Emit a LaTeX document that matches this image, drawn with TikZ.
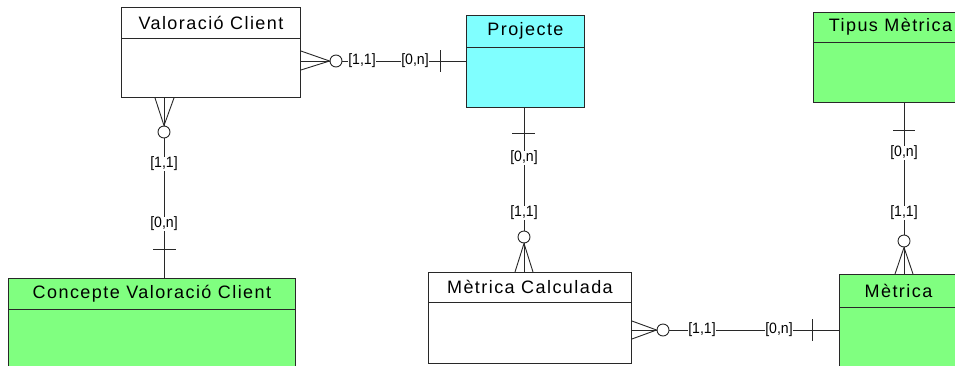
\documentclass[tikz,border=0pt]{standalone}
\usepackage{fontspec}
\setmainfont{Liberation Sans}
\newfontfamily\hdrfont[LetterSpace=8]{Liberation Sans}
\newfontfamily\lblfont[FakeStretch=0.94]{Liberation Sans}
\usetikzlibrary{calc}
\definecolor{cyanfill}{RGB}{128,255,255}
\definecolor{greenfill}{RGB}{128,255,128}
\definecolor{edge}{RGB}{40,40,40}
\tikzset{
  entity/.style={draw=edge, line width=0.9pt, anchor=north west, inner sep=0pt, rectangle},
  ttl/.style={font=\hdrfont\fontsize{18}{21}\selectfont, inner sep=0pt, text=black},
  lbl/.style={font=\lblfont\fontsize{15}{17}\selectfont, fill=white, inner sep=0.5pt, text=black},
  circ/.style={draw=edge, line width=0.9pt, circle, fill=white, minimum size=12pt, inner sep=0pt},
  conn/.style={draw=edge, line width=0.9pt},
}
\begin{document}
\begin{tikzpicture}[x=1pt,y=-1pt]
\clip (0,0) rectangle (955,365);
\fill[white] (0,0) rectangle (955,365);

% Entities
\node[entity, fill=white, minimum width=179pt, minimum height=90pt] (vc) at (121,7) {};
\draw[conn] ([yshift=-31pt]vc.north west) -- ([yshift=-31pt]vc.north east);
\node[ttl] (vct) at ([yshift=-15.5pt]vc.north) {Valoració Client};

\node[entity, fill=cyanfill, minimum width=118pt, minimum height=92pt] (pr) at (466,15) {};
\draw[conn] ([yshift=-32pt]pr.north west) -- ([yshift=-32pt]pr.north east);
\node[ttl] (prt) at ([yshift=-16pt]pr.north) {Projecte};

\node[entity, fill=greenfill, minimum width=154pt, minimum height=90pt] (tm) at (813,12) {};
\draw[conn] ([yshift=-30pt]tm.north west) -- ([yshift=-30pt]tm.north east);
\node[ttl] (tmt) at ([yshift=-15pt]tm.north) {Tipus Mètrica};

\node[entity, fill=greenfill, minimum width=287pt, minimum height=120pt] (cvc) at (8,278) {};
\draw[conn] ([yshift=-31pt]cvc.north west) -- ([yshift=-31pt]cvc.north east);
\node[ttl] (cvct) at ([yshift=-15.5pt]cvc.north) {Concepte Valoració Client};

\node[entity, fill=white, minimum width=203pt, minimum height=91pt] (mc) at (428,272) {};
\draw[conn] ([yshift=-30pt]mc.north west) -- ([yshift=-30pt]mc.north east);
\node[ttl] (mct) at ([yshift=-15pt]mc.north) {Mètrica Calculada};

\node[entity, fill=greenfill, minimum width=118pt, minimum height=120pt] (met) at (839,274) {};
\draw[conn] ([yshift=-33pt]met.north west) -- ([yshift=-33pt]met.north east);
\node[ttl] (mett) at ([yshift=-16.5pt]met.north) {Mètrica};

% Connector A: Valoració Client -- Projecte (y=61)
\coordinate (a1) at (vc.east |- 0,61);
\coordinate (a2) at (pr.west |- 0,61);
\draw[conn] (a1) -- (a2);
\node[circ] (ca) at (336,61) {};
\draw[conn] (vc.east |- 0,51) -- (ca.west) -- (vc.east |- 0,70);
\node[lbl] (la1) at (362,61) {[1,1]};
\node[lbl] (la2) at (415,61) {[0,n]};
\draw[conn] (440,50) -- (440,72);

% Connector B: Valoració Client -- Concepte Valoració Client (x=164)
\coordinate (b1) at (164,0 |- vc.south);
\coordinate (b2) at (164,0 |- cvc.north);
\draw[conn] (b1) -- (b2);
\node[circ] (cb) at (164,132) {};
\draw[conn] (155,0 |- vc.south) -- (cb.north) -- (174,0 |- vc.south);
\node[lbl] (lb1) at (164,164) {[1,1]};
\node[lbl] (lb2) at (164,224) {[0,n]};
\draw[conn] (153,249) -- (176,249);

% Connector C: Projecte -- Mètrica Calculada (x=524)
\coordinate (c1) at (524,0 |- pr.south);
\coordinate (c2) at (524,0 |- mc.north);
\draw[conn] (c1) -- (c2);
\node[lbl] (lc1) at (524,158) {[0,n]};
\node[lbl] (lc2) at (524,213) {[1,1]};
\node[circ] (cc) at (524,237) {};
\draw[conn] (515,0 |- mc.north) -- (cc.south) -- (533,0 |- mc.north);
\draw[conn] (512,133) -- (535,133);

% Connector D: Tipus Mètrica -- Mètrica (x=904)
\coordinate (d1) at (904,0 |- tm.south);
\coordinate (d2) at (904,0 |- met.north);
\draw[conn] (d1) -- (d2);
\node[lbl] (ld1) at (904,153) {[0,n]};
\node[lbl] (ld2) at (904,213) {[1,1]};
\node[circ] (cd) at (904,241) {};
\draw[conn] (895,0 |- met.north) -- (cd.south) -- (913,0 |- met.north);
\draw[conn] (893,130) -- (915,130);

% Connector E: Mètrica Calculada -- Mètrica (y=330)
\coordinate (e1) at (mc.east |- 0,330);
\coordinate (e2) at (met.west |- 0,330);
\draw[conn] (e1) -- (e2);
\node[circ] (ce) at (663,330) {};
\draw[conn] (mc.east |- 0,321) -- (ce.west) -- (mc.east |- 0,339);
\node[lbl] (le1) at (702,330) {[1,1]};
\node[lbl] (le2) at (779,330) {[0,n]};
\draw[conn] (812,319) -- (812,341);
\end{tikzpicture}
\end{document}
